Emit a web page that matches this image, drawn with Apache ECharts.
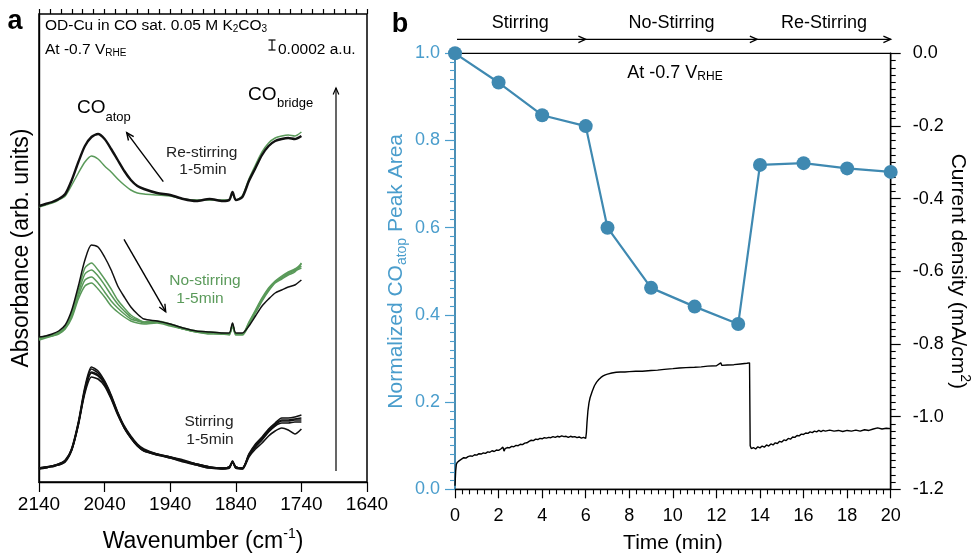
<!DOCTYPE html>
<html><head><meta charset="utf-8">
<script src="https://cdn.jsdelivr.net/npm/echarts@6/dist/echarts.min.js"></script>
<style>html,body{margin:0;padding:0;background:#fff}#c{width:972px;height:553px}</style>
</head><body><div id="c"></div>
<script>
// ---------- Panel a : IR spectra (offset, arb. units) ----------
const wavenumbers = [2140,2130,2120,2110,2100,2090,2080,2070,2060,2050,2040,2030,2020,2010,2000,1990,1980,1960,1940,1920,1900,1880,1860,1850,1845,1840,1830,1820,1810,1800,1790,1780,1770,1760,1750,1740];
const waveTicks = [2140,2040,1940,1840,1740,1640];

const stir1 = [14,15,16,18,21,34,60,95,115,111,101,87,70,56,46,38,33,28,25,22,18,15,14,15,21,15,14,28,38,45,53,59,64,64,65,67];
const stir2 = [13,15,16,18,22,33,59,93,113,109,100,86,69,55,45,37,32,28,24,21,18,15,13,15,20,15,13,27,37,44,52,58,62,62,63,64];
const stir3 = [14,14,16,17,21,33,58,92,110,107,99,85,69,55,45,37,32,27,25,21,17,14,14,14,21,14,14,27,36,43,51,57,61,61,62,62];
const stir4 = [14,15,15,18,21,32,58,91,109,106,98,84,68,54,44,36,31,28,25,21,18,15,14,15,20,15,14,26,35,42,50,56,59,59,60,60];
const stir5 = [13,14,16,17,20,32,57,89,105,103,96,83,67,54,44,36,31,27,24,20,17,14,13,14,20,14,13,25,33,39,46,51,54,52,48,53];

const noStir0 = [145,146,148,151,157,172,196,222,237,235,225,212,196,185,175,168,163,161,158,154,151,150,149,149,159,149,149,156,166,176,183,189,192,195,197,202];
const noStir1 = [144,145,147,150,155,170,192,214,219,212,203,193,182,174,167,163,160,161,158,154,151,150,149,148,158,148,148,158,170,182,193,200,205,209,212,216];
const noStir2 = [144,146,147,149,155,168,189,208,212,206,197,187,178,171,165,162,160,160,157,153,150,149,148,148,157,148,148,160,172,184,194,201,206,210,213,218];
const noStir3 = [143,145,146,149,154,166,186,202,205,199,190,181,174,168,163,161,159,160,157,153,150,149,148,148,157,148,148,159,171,183,192,200,204,208,211,214];
const noStir4 = [142,144,146,148,153,164,183,196,199,193,185,176,170,165,161,159,158,159,156,153,150,148,148,147,156,147,147,157,169,181,191,199,203,207,210,219];

const reStirGreen = [275,277,279,282,286,297,309,320,326,323,316,310,303,297,292,289,288,287,286,283,282,282,282,282,289,282,286,303,317,330,339,344,346,347,346,350];
const reStirBlack = [276,278,280,283,288,302,320,336,345,348,343,333,322,311,302,296,293,289,287,283,281,283,281,282,290,282,285,301,314,327,336,341,343,344,343,346];

// ---------- Panel b ----------
const peakTimes = [0,2,4,6,7,9,11,13,14,16,18,20];
const peakArea  = [1.0,0.933,0.858,0.833,0.600,0.462,0.419,0.379,0.744,0.748,0.736,0.728];
const phaseBounds = [0,6,13.87,20];
const phaseNames = ['Stirring','No-Stirring','Re-Stirring'];
const currentTrace = [
[0,-1.190],[0.03,-1.150],[0.06,-1.132],[0.1,-1.126],[0.2,-1.121],[0.3,-1.117],[0.4,-1.113],[0.5,-1.114],[0.6,-1.110],[0.7,-1.108],
[0.8,-1.109],[0.9,-1.105],[1.0,-1.106],[1.1,-1.102],[1.2,-1.103],[1.3,-1.100],[1.4,-1.101],[1.5,-1.097],[1.6,-1.098],[1.7,-1.094],
[1.8,-1.096],[1.9,-1.092],[2.0,-1.093],[2.1,-1.089],[2.2,-1.084],[2.25,-1.095],[2.3,-1.088],[2.4,-1.085],[2.5,-1.086],[2.6,-1.082],
[2.7,-1.083],[2.8,-1.079],[2.9,-1.080],[3.0,-1.076],[3.1,-1.077],[3.2,-1.073],[3.3,-1.072],[3.4,-1.068],[3.5,-1.065],[3.6,-1.066],
[3.7,-1.062],[3.8,-1.063],[3.9,-1.060],[4.0,-1.061],[4.1,-1.058],[4.2,-1.059],[4.3,-1.057],[4.4,-1.058],[4.5,-1.055],[4.6,-1.057],
[4.7,-1.054],[4.8,-1.056],[4.9,-1.053],[5.0,-1.055],[5.1,-1.054],[5.2,-1.057],[5.3,-1.054],[5.4,-1.056],[5.5,-1.055],[5.6,-1.058],
[5.7,-1.056],[5.8,-1.059],[5.9,-1.057],[6.0,-1.060],
[6.03,-1.045],[6.06,-1.015],[6.1,-0.985],[6.15,-0.962],[6.2,-0.948],[6.3,-0.930],[6.4,-0.915],[6.5,-0.905],[6.6,-0.898],[6.7,-0.892],
[6.8,-0.888],[6.9,-0.885],[7.0,-0.883],[7.2,-0.880],[7.4,-0.878],[7.6,-0.877],[7.8,-0.877],[8.0,-0.876],[8.3,-0.875],[8.6,-0.875],
[9.0,-0.873],[9.3,-0.872],[9.6,-0.870],[10.0,-0.868],[10.3,-0.866],[10.6,-0.865],[11.0,-0.864],[11.3,-0.863],[11.6,-0.861],[12.0,-0.860],
[12.2,-0.852],[12.25,-0.859],[12.5,-0.858],[12.8,-0.857],[13.1,-0.855],[13.4,-0.853],[13.52,-0.852],
[13.55,-1.080],[13.6,-1.088],[13.7,-1.085],[13.8,-1.089],[13.9,-1.083],[14.0,-1.086],[14.1,-1.081],[14.2,-1.084],[14.3,-1.078],[14.4,-1.081],
[14.5,-1.075],[14.6,-1.078],[14.7,-1.072],[14.8,-1.074],[14.9,-1.068],[15.0,-1.070],[15.1,-1.064],[15.2,-1.066],[15.3,-1.060],[15.4,-1.062],
[15.5,-1.056],[15.6,-1.057],[15.7,-1.052],[15.8,-1.053],[15.9,-1.048],[16.0,-1.049],[16.1,-1.045],[16.2,-1.046],[16.3,-1.042],[16.4,-1.044],
[16.5,-1.040],[16.6,-1.042],[16.7,-1.038],[16.8,-1.041],[16.9,-1.038],[17.0,-1.040],[17.2,-1.037],[17.4,-1.040],[17.6,-1.038],[17.8,-1.041],
[18.0,-1.038],[18.2,-1.040],[18.4,-1.037],[18.6,-1.040],[18.8,-1.036],[19.0,-1.038],[19.2,-1.034],[19.4,-1.031],[19.6,-1.034],[19.8,-1.032],[20.0,-1.033]
];

const FONT = '"Liberation Sans", Arial, Helvetica, sans-serif';
const BLUE = '#3f89b1', BLUE_T = '#4a9dcc', GREEN = '#5a9a5a', BLACK = '#111';

// minor tick positions for the wavenumber axis (6 subdivisions per 100 cm-1)
const waveMinor = [];
for (let i = 0; i < waveTicks.length - 1; i++) for (let k = 0; k < 6; k++) waveMinor.push(1640 + (i*6+k)*100/6);
waveMinor.push(2140);

function spec(arr, color, width, z) {
  return {type:'line', xAxisIndex:0, yAxisIndex:0, data: wavenumbers.map((w,i)=>[w, arr[i]]),
    symbol:'none', smooth:0.25, lineStyle:{color, width}, z: z||2, silent:true};
}

const chart = echarts.init(document.getElementById('c'));
const option = {
  animation:false,
  backgroundColor:'#fff',
  grid:[
    {left:39, top:14, width:328, height:468, show:true, borderColor:'#000', borderWidth:1.5, backgroundColor:'transparent',
     containLabel:false, outerBoundsMode:'none'},
    {left:455, top:53.3, width:435.7, height:436, show:true, borderColor:'#000', borderWidth:1.3, backgroundColor:'transparent',
     containLabel:false, outerBoundsMode:'none'}
  ],
  xAxis:[
    {gridIndex:0, type:'value', min:1640, max:2140, inverse:true,
     axisLine:{lineStyle:{color:'#000', width:1.4}},
     axisTick:{customValues:waveTicks, length:10, lineStyle:{color:'#000', width:1.2}},
     axisLabel:{customValues:waveTicks, fontSize:19, color:'#000', fontFamily:FONT, margin:13, formatter:v=>String(v)},
     splitLine:{show:false},
     name:'{n|Wavenumber (cm}{sup|-1}{n|)}', nameLocation:'middle', nameGap:45,
     nameTextStyle:{rich:{n:{fontSize:23, fontFamily:FONT, color:'#000'}, sup:{fontSize:14, fontFamily:FONT, color:'#000', padding:[0,0,15,0]}}}},
    {gridIndex:0, type:'value', min:1640, max:2140, inverse:true,
     axisLine:{show:false},
     axisTick:{customValues:waveMinor, length:5, lineStyle:{color:'#000', width:1.2}},
     axisLabel:{show:false}, splitLine:{show:false}},
    {gridIndex:1, type:'value', min:0, max:20, interval:2,
     axisLine:{lineStyle:{color:'#000', width:1.4}},
     axisTick:{length:9, lineStyle:{color:'#000', width:1.2}},
     minorTick:{show:true, splitNumber:6, length:5, lineStyle:{color:'#000', width:1.1}},
     axisLabel:{fontSize:18, color:'#000', fontFamily:FONT, margin:18},
     splitLine:{show:false}, minorSplitLine:{show:false},
     name:'Time (min)', nameLocation:'middle', nameGap:43,
     nameTextStyle:{fontSize:21, fontFamily:FONT, color:'#000'}}
  ],
  yAxis:[
    {gridIndex:0, type:'value', min:0, max:468,
     axisLine:{show:true, lineStyle:{color:'#000', width:1.4}},
     axisTick:{show:false}, axisLabel:{show:false}, splitLine:{show:false},
     name:'Absorbance (arb. units)', nameLocation:'middle', nameGap:6,
     nameTextStyle:{fontSize:23, fontFamily:FONT, color:'#000'}},
    {gridIndex:1, type:'value', min:0, max:1, interval:0.2, position:'left',
     axisLine:{lineStyle:{color:BLUE_T, width:1.6}},
     axisTick:{length:10, lineStyle:{color:BLUE_T, width:1.2}},
     minorTick:{show:true, splitNumber:10, length:5, lineStyle:{color:BLUE_T, width:1.1}},
     axisLabel:{fontSize:18, color:BLUE_T, fontFamily:FONT, margin:15, formatter:v=>v.toFixed(1)},
     splitLine:{show:false},
     name:'{n|Normalized CO}{sub|atop}{n| Peak Area}', nameLocation:'middle', nameGap:46,
     nameTextStyle:{rich:{n:{fontSize:21, fontFamily:FONT, color:BLUE_T}, sub:{fontSize:14, fontFamily:FONT, color:BLUE_T, padding:[12,0,0,0]}}}},
    {gridIndex:1, type:'value', min:-1.2, max:0, interval:0.2, position:'right',
     axisLine:{lineStyle:{color:'#000', width:1.4}},
     axisTick:{length:10, lineStyle:{color:'#000', width:1.2}},
     minorTick:{show:true, splitNumber:10, length:5, lineStyle:{color:'#000', width:1.1}},
     axisLabel:{fontSize:18, color:'#000', fontFamily:FONT, margin:22, formatter:v=>v.toFixed(1)},
     splitLine:{show:false},
     name:'{n|Current density (mA/cm}{sup|2}{n|)}', nameLocation:'middle', nameGap:51, nameRotate:-90,
     nameTextStyle:{rich:{n:{fontSize:21, fontFamily:FONT, color:'#000'}, sup:{fontSize:14, fontFamily:FONT, color:'#000', padding:[0,0,14,0]}}}}
  ],
  series:[
    spec(stir5, BLACK, 1.6), spec(stir4, BLACK, 1.6), spec(stir3, BLACK, 1.6), spec(stir2, BLACK, 1.6), spec(stir1, BLACK, 1.6),
    spec(noStir4, GREEN, 1.5), spec(noStir3, GREEN, 1.5), spec(noStir2, GREEN, 1.5), spec(noStir1, GREEN, 1.5), spec(noStir0, BLACK, 1.5, 3),
    spec(reStirGreen, GREEN, 1.5), spec(reStirBlack, BLACK, 2.4, 3),
    {type:'line', xAxisIndex:2, yAxisIndex:2, data:currentTrace, symbol:'none', lineStyle:{color:'#000', width:1.4}, silent:true},
    {type:'line', xAxisIndex:2, yAxisIndex:1, data:peakTimes.map((t,i)=>[t, peakArea[i]]), symbol:'circle', symbolSize:14,
     itemStyle:{color:BLUE}, lineStyle:{color:BLUE, width:2.2}, z:5, silent:true}
  ]
};
chart.setOption(option);

// ---------- annotations ----------
function arrow(x1,y1,x2,y2,head,color,width){
  const ang = Math.atan2(y2-y1, x2-x1);
  const a1 = ang + Math.PI - 0.42, a2 = ang + Math.PI + 0.42;
  return [
    {type:'line', shape:{x1,y1,x2,y2}, style:{stroke:color, lineWidth:width}, silent:true},
    {type:'polyline', shape:{points:[[x2+head*Math.cos(a1), y2+head*Math.sin(a1)],[x2,y2],[x2+head*Math.cos(a2), y2+head*Math.sin(a2)]]},
     style:{stroke:color, lineWidth:width, fill:null}, silent:true}
  ];
}
function txt(text, x, y, size, opts){
  opts = opts || {};
  return {type:'text', x, y, silent:true, style:{text, fontSize:size, fontFamily:FONT, fontWeight:opts.weight||'normal',
    fill:opts.color||'#000', align:opts.align||'center', verticalAlign:'middle'}};
}
function rtxt(main, sub, x, y, size, subSize, opts){
  opts = opts || {};
  return {type:'text', x, y, silent:true, style:{text:'{n|'+main+'}{s|'+sub+'}', align:opts.align||'left', verticalAlign:'middle',
    rich:{n:{fontSize:size, fontFamily:FONT, fill:'#000'}, s:{fontSize:subSize, fontFamily:FONT, fill:'#000', padding:[Math.round(subSize*0.7),0,0,0]}}}};
}

const g = [];
// panel a
g.push(txt('a', 15, 22, 27, {weight:'bold'}));
g.push({type:'text', x:45, y:26, silent:true, style:{text:'{n|OD-Cu in CO sat. 0.05 M K}{s|2}{n|CO}{s|3}', align:'left', verticalAlign:'middle',
  rich:{n:{fontSize:15.5, fontFamily:FONT, fill:'#000'}, s:{fontSize:10, fontFamily:FONT, fill:'#000', padding:[7,0,0,0]}}}});
g.push(rtxt('At -0.7 V', 'RHE', 45, 50, 15.5, 10));
g.push({type:'line', shape:{x1:272,y1:40,x2:272,y2:50}, style:{stroke:'#000', lineWidth:1.2}, silent:true});
g.push({type:'line', shape:{x1:268.5,y1:40,x2:275.5,y2:40}, style:{stroke:'#000', lineWidth:1.2}, silent:true});
g.push({type:'line', shape:{x1:268.5,y1:50,x2:275.5,y2:50}, style:{stroke:'#000', lineWidth:1.2}, silent:true});
g.push(txt('0.0002 a.u.', 278, 49.5, 15.5, {align:'left'}));
g.push(txt('CO', 77, 108, 19, {align:'left'}));
g.push(txt('atop', 105.5, 117, 13, {align:'left'}));
g.push(txt('CO', 248, 94.5, 19, {align:'left'}));
g.push(txt('bridge', 277, 103, 13, {align:'left'}));
g.push(...arrow(336, 471, 336, 88, 7, '#000', 1.2));
g.push(txt('Re-stirring', 201.7, 152.7, 15.5, {color:'#222'}));
g.push(txt('1-5min', 203, 170, 15.5, {color:'#222'}));
g.push(...arrow(163.3, 181.7, 126.7, 132.7, 8, '#000', 1.4));
g.push(txt('No-stirring', 205, 280.7, 15.5, {color:GREEN}));
g.push(txt('1-5min', 200, 298.3, 15.5, {color:GREEN}));
g.push(...arrow(124, 239.3, 165.7, 311.7, 8, '#000', 1.4));
g.push(txt('Stirring', 209, 421.7, 15.5, {color:'#222'}));
g.push(txt('1-5min', 210, 439.3, 15.5, {color:'#222'}));
// panel b
g.push(txt('b', 400, 25, 27, {weight:'bold'}));
const px = t => chart.convertToPixel({xAxisIndex:2}, t);
for (let i = 0; i < 3; i++) {
  const xa = px(phaseBounds[i]), xb = px(phaseBounds[i+1]);
  g.push(txt(phaseNames[i], (xa+xb)/2, 23.3, 18));
  g.push(...arrow(xa + (i===0?2:0), 39.3, xb, 39.3, 8, '#000', 1.3));
}
g.push(rtxt('At -0.7 V', 'RHE', 675, 73, 18, 12, {align:'center'}));

chart.setOption({graphic: g});
</script>
</body></html>
